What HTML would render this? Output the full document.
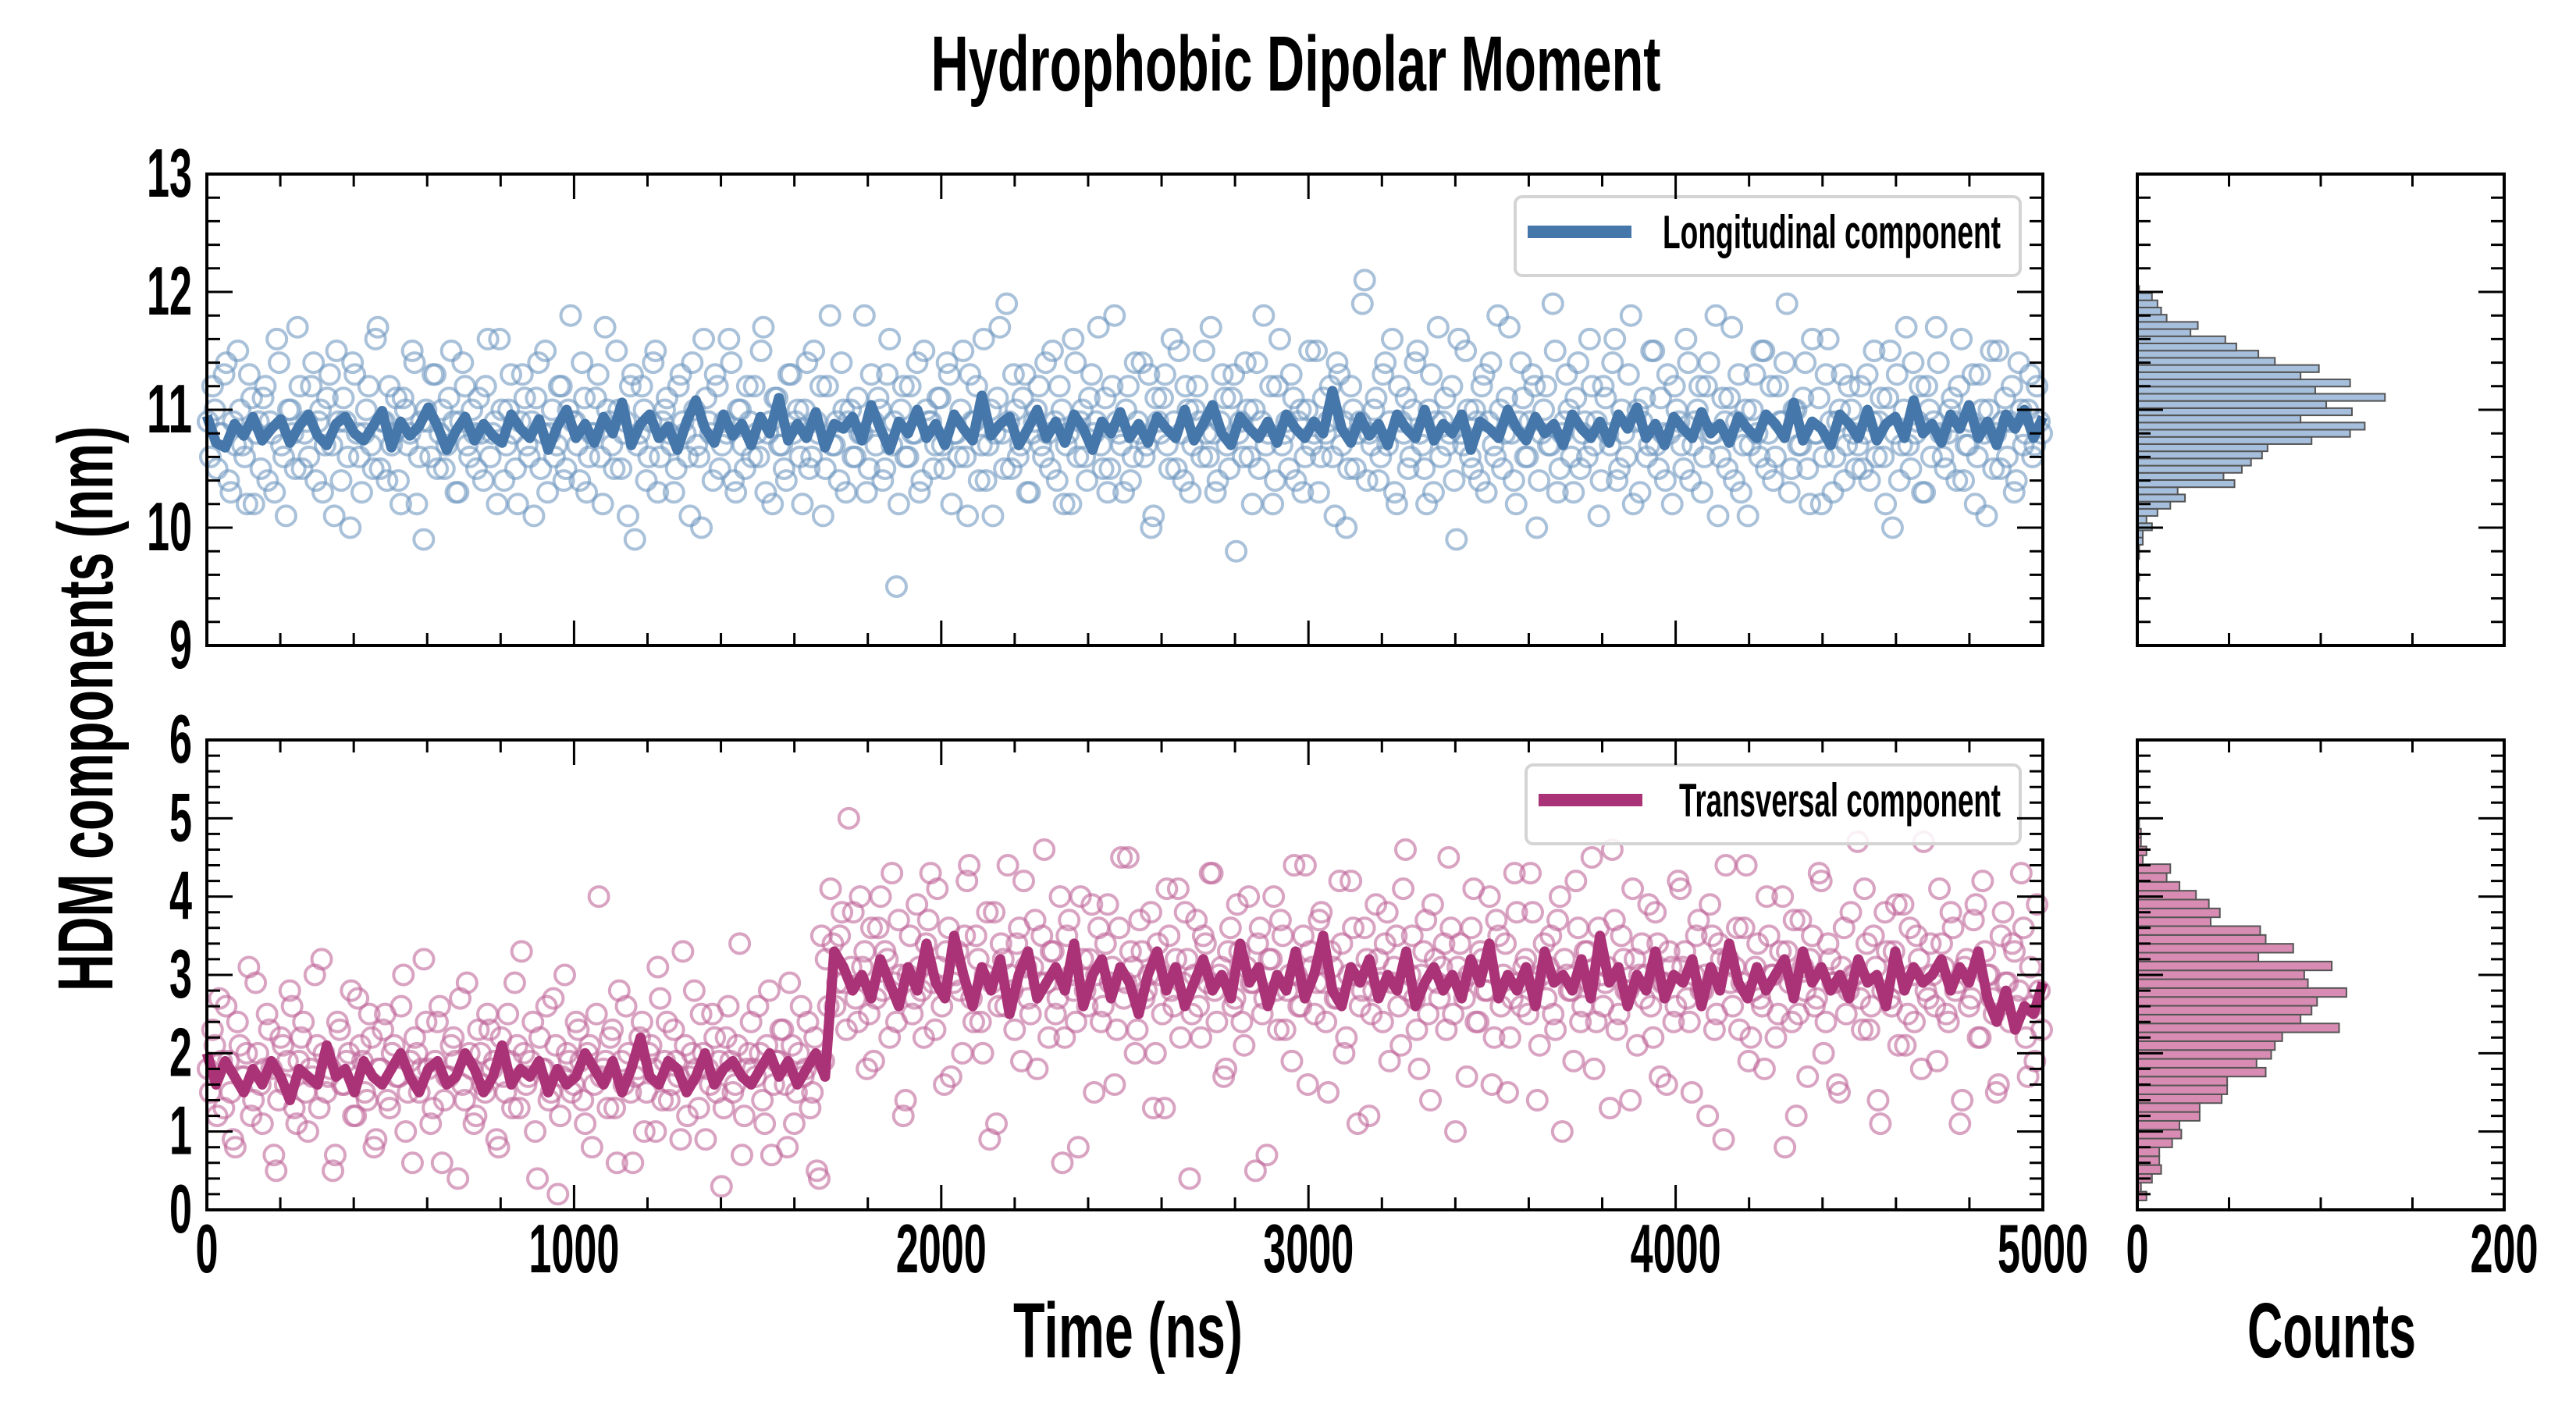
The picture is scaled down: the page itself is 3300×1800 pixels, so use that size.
<!DOCTYPE html>
<html><head><meta charset="utf-8"><style>
html,body{margin:0;padding:0;background:#fff;}
svg{display:block;}
text{font-family:"Liberation Sans Narrow","Liberation Sans",sans-serif;font-weight:bold;fill:#000;}
</style></head><body>
<svg id="chart" xmlns="http://www.w3.org/2000/svg" width="3300" height="1800" viewBox="0 0 3300 1800">
<text x="1660" y="116" font-size="100" text-anchor="middle" textLength="935" lengthAdjust="spacingAndGlyphs">Hydrophobic Dipolar Moment</text>
<text transform="translate(144,908) rotate(-90)" font-size="100" text-anchor="middle" textLength="724" lengthAdjust="spacingAndGlyphs">HDM components (nm)</text>
<text x="1445" y="1739" font-size="100" text-anchor="middle" textLength="294" lengthAdjust="spacingAndGlyphs">Time (ns)</text>
<text x="2987" y="1739" font-size="100" text-anchor="middle" textLength="216" lengthAdjust="spacingAndGlyphs">Counts</text>
<g id="layer"></g>
</svg>
<script>
const topScatter=[10.9,11.2,10.5,10.8,11.4,10.3,10.7,11.0,10.6,11.3,10.2,10.9,11.1,10.4,10.8,11.6,10.7,10.1,11.0,10.5,
11.2,10.8,10.6,11.4,10.9,10.3,11.1,10.7,11.5,10.4,10.9,10.0,11.3,10.6,10.8,11.2,10.5,11.7,10.9,10.4,
10.7,11.1,10.2,11.0,10.8,11.4,10.6,9.9,10.9,11.3,10.5,11.0,10.7,11.5,10.3,10.9,11.2,10.6,10.8,11.1,
10.4,11.6,10.8,10.2,11.0,10.7,11.3,10.5,10.9,11.1,10.6,10.1,11.4,10.8,10.3,11.0,10.7,11.2,10.5,11.8,
10.9,10.4,11.1,10.6,10.8,11.3,10.2,11.0,10.7,11.5,10.5,10.9,11.2,9.9,10.8,11.0,10.6,11.4,10.3,10.9,
11.1,10.7,10.5,11.3,10.8,10.1,11.0,10.6,11.6,10.9,10.4,11.2,10.7,10.8,11.4,10.3,11.0,10.5,10.9,11.2,
10.6,11.7,10.8,10.2,11.1,10.7,10.4,11.3,10.9,10.6,11.0,10.5,11.5,10.8,10.1,11.2,10.7,10.9,11.4,10.3,
11.0,10.6,10.8,11.8,10.5,10.9,11.1,10.4,11.3,10.7,9.5,11.0,10.6,11.2,10.8,10.3,11.5,10.9,10.5,11.1,
10.7,11.4,10.2,10.8,11.0,10.6,11.3,10.9,10.4,11.6,10.7,10.1,11.1,10.8,11.9,10.5,11.0,10.7,11.3,10.3,
10.9,11.2,10.6,10.8,11.5,10.4,11.0,10.7,10.2,11.4,10.9,10.6,11.1,10.8,11.7,10.5,10.3,11.2,10.9,10.7,
11.0,10.4,11.4,10.8,10.6,11.3,10.1,10.9,11.1,10.7,11.6,10.5,10.8,11.2,10.3,11.0,10.9,11.5,10.6,10.8,
10.4,11.3,10.7,11.1,9.8,10.9,11.4,10.6,11.0,10.5,11.8,10.8,10.2,11.2,10.7,10.9,11.3,10.4,11.0,10.6,
11.5,10.8,10.3,11.1,10.9,10.6,11.4,10.7,10.0,11.2,10.5,10.9,12.1,10.8,11.0,10.4,11.3,10.7,11.6,10.2,
10.9,11.1,10.6,11.4,10.8,10.5,11.0,10.3,11.7,10.9,10.7,11.2,9.9,10.8,11.5,10.6,11.0,10.4,11.3,10.9,
10.7,11.8,10.5,11.1,10.8,10.2,11.4,10.6,10.9,11.2,10.4,11.0,10.7,11.9,10.3,10.8,11.3,10.6,11.1,10.5,
10.9,11.6,10.7,10.1,11.2,10.8,11.4,10.4,11.0,10.6,11.8,10.9,10.3,11.1,10.7,11.5,10.5,10.8,11.3,10.2,
11.0,10.7,11.6,10.4,10.9,11.2,10.6,11.4,10.8,10.1,11.1,10.5,11.7,10.9,10.3,11.0,10.7,11.3,10.6,11.5,
10.8,10.4,11.2,10.9,11.9,10.5,11.0,10.7,11.4,10.2,10.8,11.1,10.6,11.6,10.3,10.9,11.3,10.7,11.0,10.5,
11.2,10.8,10.4,11.5,10.9,10.6,11.1,10.0,11.3,10.7,11.7,10.5,10.8,11.2,10.3,11.0,10.9,11.4,10.6,10.8,
11.1,10.4,11.6,10.7,10.9,10.2,11.3,10.8,11.0,10.5,11.5,10.9,10.6,11.2,10.4,11.0,10.8,11.3,10.7,10.9];
const topScatterB=[10.6,11.0,10.8,11.3,10.4,10.9,11.5,10.7,10.2,11.1,10.8,10.5,11.2,10.9,10.3,11.4,10.6,11.0,10.8,11.7,
10.5,10.9,11.2,10.4,11.0,10.7,11.3,10.1,10.9,11.1,10.6,11.4,10.8,10.3,11.0,10.7,11.6,10.5,10.9,11.2,
10.8,10.4,11.1,10.7,11.5,10.2,10.9,11.0,10.6,11.3,10.8,10.5,11.1,10.9,10.3,11.4,10.7,11.0,10.5,10.8,
11.2,10.6,10.9,11.6,10.4,11.0,10.8,10.2,11.3,10.7,10.9,11.1,10.5,11.5,10.8,10.6,11.2,10.4,11.0,10.9,
10.7,11.4,10.3,10.8,11.1,10.6,11.7,10.9,10.5,11.0,10.8,10.1,11.3,10.7,11.2,10.4,10.9,11.5,10.6,11.0,
10.8,10.3,11.2,10.9,10.6,11.4,10.7,10.0,11.1,10.8,11.3,10.5,10.9,11.6,10.4,11.0,10.7,11.2,10.6,10.8,
11.5,10.3,10.9,11.1,10.7,10.5,11.3,10.8,11.0,10.2,11.4,10.6,10.9,11.2,10.5,11.8,10.7,10.4,11.0,10.9,
10.6,11.1,10.8,10.3,11.3,10.7,11.0,10.5,11.6,10.9,10.2,11.2,10.6,10.8,11.4,10.4,11.0,10.9,10.7,11.1,
10.5,11.3,10.8,10.6,11.5,10.1,10.9,11.2,10.7,10.4,11.0,10.8,11.7,10.5,10.9,11.3,10.6,11.1,10.3,10.8,
11.0,10.7,11.4,10.5,10.9,11.2,10.2,10.8,11.6,10.6,11.0,10.4,11.3,10.9,10.7,11.1,10.5,11.8,10.8,10.3,
11.2,10.6,10.9,11.4,10.7,10.0,11.1,10.8,11.3,10.5,10.9,11.5,10.4,11.0,10.7,11.2,10.6,10.8,11.7,10.3,
10.9,11.1,10.5,11.3,10.8,10.6,11.0,10.2,11.4,10.9,10.7,11.2,10.4,11.6,10.8,10.5,11.1,10.9,10.3,11.0,
10.7,11.5,10.6,10.8,11.2,10.1,11.3,10.9,10.5,11.0,10.8,11.9,10.4,10.7,11.1,10.6,11.4,10.9,10.3,11.2,
10.8,10.5,11.0,11.5,10.7,10.2,11.3,10.9,10.6,11.1,10.8,10.4,11.6,10.7,11.0,10.5,10.9,11.2,10.3,11.4,
10.6,11.0,10.8,11.7,10.4,10.9,11.1,10.6,11.3,10.0,10.8,11.2,10.7,11.5,10.5,10.9,11.0,10.3,11.4,10.8,
10.6,11.2,10.9,10.4,11.1,10.7,11.6,10.5,10.8,11.3,10.2,11.0,10.9,10.6,11.5,10.7,11.1,10.4,10.8,11.2,
10.9,10.5,11.4,10.7,11.0,10.3,11.2,10.8,11.8,10.6,10.9,11.1,10.4,11.3,10.7,10.1,11.0,10.8,11.5,10.5,
11.2,10.6,10.9,11.4,10.3,11.0,10.7,11.1,10.5,11.6,10.8,10.2,11.3,10.9,10.6,11.0,10.4,11.2,10.8,10.7,
10.5,11.3,10.9,10.6,11.1,10.2,11.5,10.8,10.4,11.0,10.7,11.4,10.9,10.3,11.2,10.6,11.7,10.8,10.5,11.0,
10.9,11.2,10.4,10.7,11.3,10.6,11.0,10.1,11.5,10.8,10.5,11.1,10.9,10.3,11.4,10.7,11.0,10.6,11.2,10.8];
const topLine=[10.95,10.72,10.68,10.88,10.78,10.94,10.74,10.84,10.92,10.72,
10.86,10.96,10.78,10.70,10.88,10.94,10.80,10.74,10.86,10.99,
10.68,10.90,10.78,10.86,11.02,10.86,10.66,10.82,10.94,10.74,
10.88,10.78,10.72,10.96,10.84,10.76,10.92,10.66,10.86,11.00,
10.76,10.88,10.72,10.94,10.80,11.06,10.70,10.88,10.96,10.76,
10.86,10.66,10.90,11.08,10.84,10.72,10.96,10.78,10.88,10.70,
10.94,10.80,11.10,10.74,10.88,10.76,10.98,10.68,10.88,10.84,
10.94,10.74,11.04,10.84,10.66,10.90,10.80,11.00,10.76,10.88,
10.70,10.96,10.84,10.74,11.12,10.78,10.88,10.94,10.70,10.84,
11.00,10.76,10.90,10.72,10.96,10.84,10.66,10.90,10.80,10.98,
10.76,10.88,10.72,10.94,10.84,10.76,11.00,10.74,10.88,11.04,
10.80,10.70,10.94,10.84,10.76,10.90,10.72,10.96,10.84,10.76,
10.90,10.80,11.16,10.84,10.72,10.94,10.78,10.88,10.70,10.96,
10.84,10.76,11.00,10.74,10.88,10.80,10.96,10.66,10.90,10.84,
10.76,11.00,10.84,10.74,10.94,10.80,10.88,10.70,10.96,10.84,
10.76,10.90,10.72,10.96,10.84,11.02,10.76,10.88,10.70,10.94,
10.84,10.76,10.98,10.80,10.88,10.72,10.94,10.84,10.76,10.96,
10.88,10.76,11.06,10.74,10.90,10.84,10.70,10.96,10.88,10.76,
11.00,10.74,10.88,10.94,10.76,11.08,10.80,10.88,10.72,10.96,
10.84,11.04,10.76,10.90,10.70,10.96,10.84,11.00,10.76,10.94];
const botScatter=[1.8,2.3,1.2,1.9,2.6,1.5,0.8,2.1,1.7,3.1,1.4,2.0,1.1,2.5,1.8,0.5,2.2,1.6,2.8,1.3,
1.9,2.4,1.0,1.7,2.1,3.2,1.5,1.8,0.7,2.3,1.6,2.0,1.2,2.7,1.9,1.4,2.2,0.9,1.8,2.5,
1.3,2.1,1.7,3.0,1.5,0.6,2.0,1.8,2.4,1.1,1.9,2.6,1.4,1.7,2.2,0.4,1.6,2.9,1.8,1.2,
2.0,1.5,2.3,1.9,0.8,1.7,2.5,1.3,2.1,3.3,1.6,1.9,1.0,2.2,1.8,1.4,2.7,0.2,1.7,2.0,
1.5,2.4,1.9,1.1,2.1,1.6,4.0,1.8,1.3,2.3,0.6,1.9,2.6,1.5,1.7,2.2,1.0,2.0,1.8,3.1,
1.4,2.4,1.6,1.9,0.9,2.1,1.7,2.8,1.3,2.0,1.8,2.5,1.5,0.3,2.2,1.9,1.6,3.4,1.2,2.0,
1.8,2.6,1.4,2.1,0.7,1.9,2.3,1.6,2.9,1.1,2.0,1.7,2.4,1.5,0.5,3.5,
3.2,4.1,2.6,3.5,2.9,5.0,3.8,2.4,3.1,1.8,3.6,2.7,4.0,3.3,2.2,2.9,3.7,1.2,3.0,2.5,
3.9,2.8,3.4,4.3,2.3,3.1,1.6,3.6,2.9,3.3,2.0,4.2,2.7,3.5,2.4,3.0,0.9,3.8,2.6,3.2,
4.4,2.8,3.4,1.9,3.1,2.5,3.7,2.9,4.6,2.2,3.3,2.7,0.6,3.5,3.0,2.4,4.0,2.8,3.2,1.5,
3.6,2.6,3.9,3.1,2.3,4.5,2.9,3.3,2.0,3.7,2.7,3.0,1.3,3.4,2.5,4.1,2.8,3.2,2.2,3.8,
0.4,3.0,2.6,3.5,2.9,4.3,2.4,3.1,1.8,3.6,2.7,3.3,2.1,4.0,2.9,3.4,2.5,0.7,3.2,2.8,
3.7,2.3,3.0,4.4,2.6,3.5,1.6,3.1,2.9,3.8,2.4,3.3,2.7,4.2,2.0,3.0,3.6,1.1,2.8,3.2,
2.5,3.9,2.9,3.4,1.9,3.1,2.6,4.1,2.8,3.5,2.3,3.0,3.7,1.4,3.2,2.7,3.4,4.5,2.5,3.1,
2.9,1.7,3.6,2.4,3.3,2.8,4.0,2.2,3.5,3.0,1.5,2.7,3.8,2.6,3.2,4.3,2.9,2.1,3.4,3.1,
2.5,3.7,1.0,3.0,2.8,4.2,2.4,3.3,2.9,1.8,3.6,2.6,3.1,4.6,2.3,3.5,2.8,1.4,3.2,3.0,
2.7,3.9,2.2,3.4,2.9,1.6,3.1,2.6,4.1,3.3,2.4,3.0,3.7,2.8,1.2,3.5,2.5,3.2,4.4,2.9,
3.1,2.3,3.6,1.9,2.8,3.4,2.6,4.0,3.0,2.2,3.3,0.8,2.9,3.7,2.5,3.1,1.7,3.5,2.7,4.2,
2.4,3.2,2.9,1.5,3.6,2.8,3.0,4.7,2.3,3.4,2.6,3.1,1.1,3.8,2.7,3.3,2.1,3.9,2.5,3.0,
3.5,1.8,2.8,3.4,2.6,4.1,3.1,2.4,3.6,2.9,1.4,3.2,2.7,3.9,2.2,3.3,3.0,2.5,1.6,3.8,
2.9,3.4,2.6,4.3,2.2,3.1,1.9,2.8];
const botScatterB=[1.5,2.1,2.7,1.3,1.9,0.9,2.4,1.7,2.0,1.2,2.9,1.6,1.8,2.3,0.7,1.4,2.1,1.9,2.6,1.1,
2.2,1.5,1.8,3.0,1.3,2.0,1.7,0.5,2.4,1.6,1.9,2.8,1.2,2.1,1.5,2.5,0.8,1.8,2.3,1.4,
2.0,1.7,2.6,1.0,1.9,2.2,1.5,3.2,1.8,1.3,2.4,0.6,1.7,2.1,1.9,2.7,1.4,2.0,1.1,2.3,
1.6,2.5,1.8,0.9,2.2,1.5,1.9,2.9,1.3,2.0,1.7,2.4,0.4,1.8,2.6,1.5,2.1,1.2,3.0,1.9,
1.6,2.3,1.4,2.0,0.8,2.5,1.7,1.9,2.2,1.3,2.8,1.6,2.0,0.6,1.8,2.4,1.5,2.1,1.0,2.7,
1.9,1.4,2.3,1.7,3.3,1.2,2.0,1.8,2.5,0.9,1.6,2.2,1.9,1.3,2.6,1.5,2.1,0.7,1.8,2.4,
1.7,2.0,1.1,2.8,1.6,1.9,2.3,0.8,2.1,1.5,2.6,1.8,1.3,2.2,0.4,1.9,
2.6,3.4,2.9,3.8,2.3,3.1,2.7,4.0,3.3,2.5,1.9,3.6,2.8,3.2,4.3,2.4,3.0,1.4,3.5,2.7,
3.1,2.2,3.7,2.9,4.1,2.6,3.3,1.7,3.0,2.8,3.5,4.4,2.4,3.2,2.0,3.8,2.9,1.1,3.4,2.6,
3.0,2.3,3.6,4.2,2.7,3.1,1.8,3.5,2.9,3.3,2.5,4.0,2.2,3.7,2.8,0.8,3.2,2.6,3.9,3.0,
2.4,3.4,2.9,1.6,3.6,2.7,4.5,3.1,2.3,3.3,2.8,3.8,2.0,3.0,1.3,3.5,2.6,4.1,2.9,3.2,
2.5,3.7,2.2,3.4,4.3,2.8,3.0,1.7,3.3,2.6,3.9,2.4,3.1,2.9,0.5,3.6,2.7,3.2,4.0,2.3,
3.5,2.8,1.9,3.0,2.6,4.4,3.3,2.5,3.7,2.9,1.5,3.1,2.7,3.4,2.2,4.2,3.0,2.6,3.6,1.2,
2.8,3.2,2.4,3.8,2.9,3.5,2.1,4.6,3.0,2.7,1.8,3.3,2.5,3.9,2.9,3.1,2.3,3.6,1.0,3.4,
2.7,3.0,4.1,2.4,3.2,2.8,1.6,3.7,2.6,3.4,2.2,4.3,2.9,3.1,2.5,3.8,1.4,3.0,2.7,3.5,
2.3,4.0,3.2,2.8,1.9,3.6,2.6,3.3,4.5,2.4,3.0,2.9,1.3,3.7,2.5,3.2,2.8,4.1,2.1,3.4,
3.0,2.6,3.8,1.7,2.9,3.3,2.4,4.2,3.1,2.7,1.5,3.5,2.8,3.0,3.9,2.3,3.4,0.9,3.2,2.6,
3.6,2.9,4.4,2.2,3.1,2.7,1.8,3.5,3.0,2.5,4.0,3.3,2.4,1.2,3.7,2.8,3.2,2.6,4.3,2.0,
3.4,2.9,1.6,3.1,2.5,3.8,3.0,2.7,4.1,2.3,3.5,1.4,2.8,3.3,2.6,3.9,2.9,2.1,3.6,2.4,
3.2,4.7,2.7,3.0,1.9,3.4,2.5,3.8,2.8,1.1,3.1,2.6,3.7,2.2,4.2,3.0,2.7,1.5,3.5,2.9,
2.4,3.3,2.8,3.6,1.7,2.6,3.9,2.3];
const botLine=[2.0,1.6,1.9,1.7,1.5,1.8,1.6,1.9,1.7,1.4,
1.8,1.7,1.6,2.1,1.7,1.8,1.5,1.9,1.7,1.6,
1.8,2.0,1.7,1.5,1.8,1.9,1.6,1.7,2.0,1.8,
1.5,1.7,2.1,1.6,1.8,1.7,1.9,1.5,1.8,1.6,
1.7,2.0,1.8,1.6,1.9,1.5,1.8,2.2,1.7,1.6,
1.9,1.8,1.5,1.7,2.0,1.6,1.8,1.9,1.7,1.6,
1.8,2.0,1.7,1.9,1.6,1.8,2.0,1.7,
3.3,3.1,2.8,3.0,2.7,3.2,2.9,2.6,3.1,2.8,
3.4,2.9,2.7,3.5,3.0,2.6,3.1,2.8,3.2,2.5,
3.0,3.3,2.7,2.9,3.1,2.8,3.4,2.6,3.0,3.2,
2.7,3.1,2.9,2.5,3.0,3.3,2.8,3.1,2.6,2.9,
3.2,2.8,3.0,2.7,3.4,2.9,3.1,2.6,3.0,2.8,
3.3,2.7,3.0,3.5,2.8,2.6,3.1,2.9,3.2,2.7,
3.0,2.8,3.3,2.6,2.9,3.1,2.8,3.0,2.7,3.2,
2.9,3.4,2.7,3.0,2.8,3.1,2.6,3.3,2.9,3.0,
2.8,3.2,2.7,3.5,2.9,3.1,2.6,3.0,2.8,3.3,
2.7,3.0,2.9,3.2,2.6,3.1,2.8,3.4,2.9,2.7,
3.1,2.8,3.0,3.2,2.7,3.3,2.9,3.1,2.8,3.0,
2.7,3.2,2.9,3.0,2.6,3.3,2.8,3.1,2.9,3.0,
3.2,2.8,3.1,2.9,3.3,2.7,2.4,2.8,2.3,2.6,2.5,2.9];
const topHistCounts=[1,0,0,1,1,3,3,8,5,11,18,26,22,53,47,57,62,68,71,95,116,124,89,117,103,135,97,116,89,99,75,66,54,48,29,33,16,13,11,8,1];
const topHistStart=9.55, topHistWidth=0.061;
const botHistCounts=[5,2,8,13,12,12,19,24,23,34,34,46,49,49,70,65,73,75,79,110,89,95,98,114,93,91,106,66,85,70,67,40,45,39,32,23,16,18,3,5,2,2,1];
const botHistStart=0.12, botHistWidth=0.113;
const xTicks=[0,1000,2000,3000,4000,5000];
const topYTicks=[9,10,11,12,13];
const botYTicks=[0,1,2,3,4,5,6];
const histTicks=[0,200];
const tStart=0, tEnd=5000;

const NS='http://www.w3.org/2000/svg';
const layer=document.getElementById('layer');
function mk(tag,attrs,parent){const e=document.createElementNS(NS,tag);for(const k in attrs)e.setAttribute(k,attrs[k]);(parent||layer).appendChild(e);return e;}
const X0=265,X1=2617,H0=2738,H1=3208;
const panels=[{y0:223,y1:827,lo:9,hi:13},{y0:948,y1:1550,lo:0,hi:6}];
const xs=v=>X0+(v-tStart)/(tEnd-tStart)*(X1-X0);
const hs=v=>H0+v/200*(H1-H0);
function ysF(p){return v=>p.y1-(v-p.lo)/(p.hi-p.lo)*(p.y1-p.y0);}

function drawScatter(p,scatter,off,light,name){
  const ys=ysF(p);
  const g=mk('g',{});
  
  
  const dt=(tEnd-tStart)/scatter.length;
  scatter.forEach((v,i)=>{const c=mk('circle',{cx:xs(tStart+i*dt+dt*off),cy:ys(v),r:12.5,fill:'none',stroke:light,'stroke-width':4,'stroke-opacity':0.6},g);
    
    });
}
function drawLine(p,line,col,name){
  const ys=ysF(p);
  const lt=(tEnd-tStart)/(line.length-1);
  const d=line.map((v,i)=>(i?'L':'M')+xs(tStart+i*lt).toFixed(1)+' '+ys(v).toFixed(1)).join('');
  const pl=mk('path',{d:d,fill:'none',stroke:col,'stroke-width':13,'stroke-linejoin':'round'});
  
  
}
function drawHist(p,counts,start,w,fill,name){
  const ys=ysF(p);
  const g=mk('g',{});
  
  
  counts.forEach((c,i)=>{const a=ys(start+i*w),b=ys(start+(i+1)*w);
    const r=mk('rect',{x:H0,y:b,width:Math.max(0,hs(c)-H0),height:a-b,fill:fill,stroke:'#555','stroke-width':2},g);
    
    });
}
function frame(x0,x1,p,name){
  const r=mk('rect',{x:x0,y:p.y0,width:x1-x0,height:p.y1-p.y0,fill:'none',stroke:'#000','stroke-width':4});
  
  
}
function yTicks(x0,x1,p,ticksArr,labels,name){
  const ys=ysF(p);
  const g=mk('g',{stroke:'#000','stroke-width':3});
  
  
  for(let v=p.lo;v<=p.hi+1e-9;v+=0.2){const y=ys(v);const maj=Math.abs(v-Math.round(v))<1e-6;const L=maj?33:17;
    mk('line',{x1:x0,x2:x0+L,y1:y,y2:y},g);mk('line',{x1:x1,x2:x1-L,y1:y,y2:y},g);}
  if(labels) ticksArr.forEach(v=>{const t=mk('text',{x:246,y:ys(v)+29,'font-size':88,'text-anchor':'end',textLength:String(v).length*29,lengthAdjust:'spacingAndGlyphs'});t.textContent=String(v);
    
    });
}
function xTicksMain(p,labels){
  const g=mk('g',{stroke:'#000','stroke-width':3});
  
  
  for(let v=tStart;v<=tEnd;v+=200){const x=xs(v);const L=v%1000===0?32:16;
    mk('line',{x1:x,x2:x,y1:p.y1,y2:p.y1-L},g);mk('line',{x1:x,x2:x,y1:p.y0,y2:p.y0+L},g);}
  if(labels) xTicks.forEach(v=>{const t=mk('text',{x:xs(v),y:1630,'font-size':88,'text-anchor':'middle',textLength:String(v).length*29,lengthAdjust:'spacingAndGlyphs'});t.textContent=String(v);
    
    });
}
function xTicksHist(p,labels){
  const g=mk('g',{stroke:'#000','stroke-width':3});
  
  
  for(let v=50;v<200;v+=50){const x=hs(v);mk('line',{x1:x,x2:x,y1:p.y1,y2:p.y1-16},g);mk('line',{x1:x,x2:x,y1:p.y0,y2:p.y0+16},g);}
  if(labels) histTicks.forEach(v=>{const t=mk('text',{x:hs(v),y:1630,'font-size':88,'text-anchor':'middle',textLength:String(v).length*29,lengthAdjust:'spacingAndGlyphs'});t.textContent=String(v);
    
    });
}
function legend(bx,by,bw,bh,col,label,tx,tw,name){
  const g=mk('g',{});
  
  
  mk('rect',{x:bx,y:by,width:bw,height:bh,rx:9,fill:'#fff','fill-opacity':0.85,stroke:'#d4d4d4','stroke-width':4},g);
  mk('line',{x1:bx+16,x2:bx+149,y1:by+45,y2:by+45,stroke:col,'stroke-width':16},g);
  const t=mk('text',{x:tx,y:by+66,'font-size':60,textLength:tw,lengthAdjust:'spacingAndGlyphs'},g);t.textContent=label;
}
drawScatter(panels[0],topScatter,0.25,'#6f97c0','longitudinal');
drawScatter(panels[0],topScatterB,0.75,'#6f97c0','longitudinal-b');
drawLine(panels[0],topLine,'#4677aa','longitudinal');
drawScatter(panels[1],botScatter,0.25,'#c0669a','transversal');
drawScatter(panels[1],botScatterB,0.75,'#c0669a','transversal-b');
drawLine(panels[1],botLine,'#aa3377','transversal');
legend(1941,252,647,101,'#4677aa','Longitudinal component',2130,433,'longitudinal');
legend(1955,980,633,101,'#aa3377','Transversal component',2151,412,'transversal');
drawHist(panels[0],topHistCounts,topHistStart,topHistWidth,'#a6bfdc','longitudinal');
drawHist(panels[1],botHistCounts,botHistStart,botHistWidth,'#d98cb3','transversal');
yTicks(X0,X1,panels[0],topYTicks,true,'top');
yTicks(X0,X1,panels[1],botYTicks,true,'bottom');
yTicks(H0,H1,panels[0],[],false,'top-hist');
yTicks(H0,H1,panels[1],[],false,'bottom-hist');
xTicksMain(panels[0],false);xTicksMain(panels[1],true);
xTicksHist(panels[0],false);xTicksHist(panels[1],true);
frame(X0,X1,panels[0],'top-panel');frame(X0,X1,panels[1],'bottom-panel');
frame(H0,H1,panels[0],'top-hist');frame(H0,H1,panels[1],'bottom-hist');
</script>
</body></html>
